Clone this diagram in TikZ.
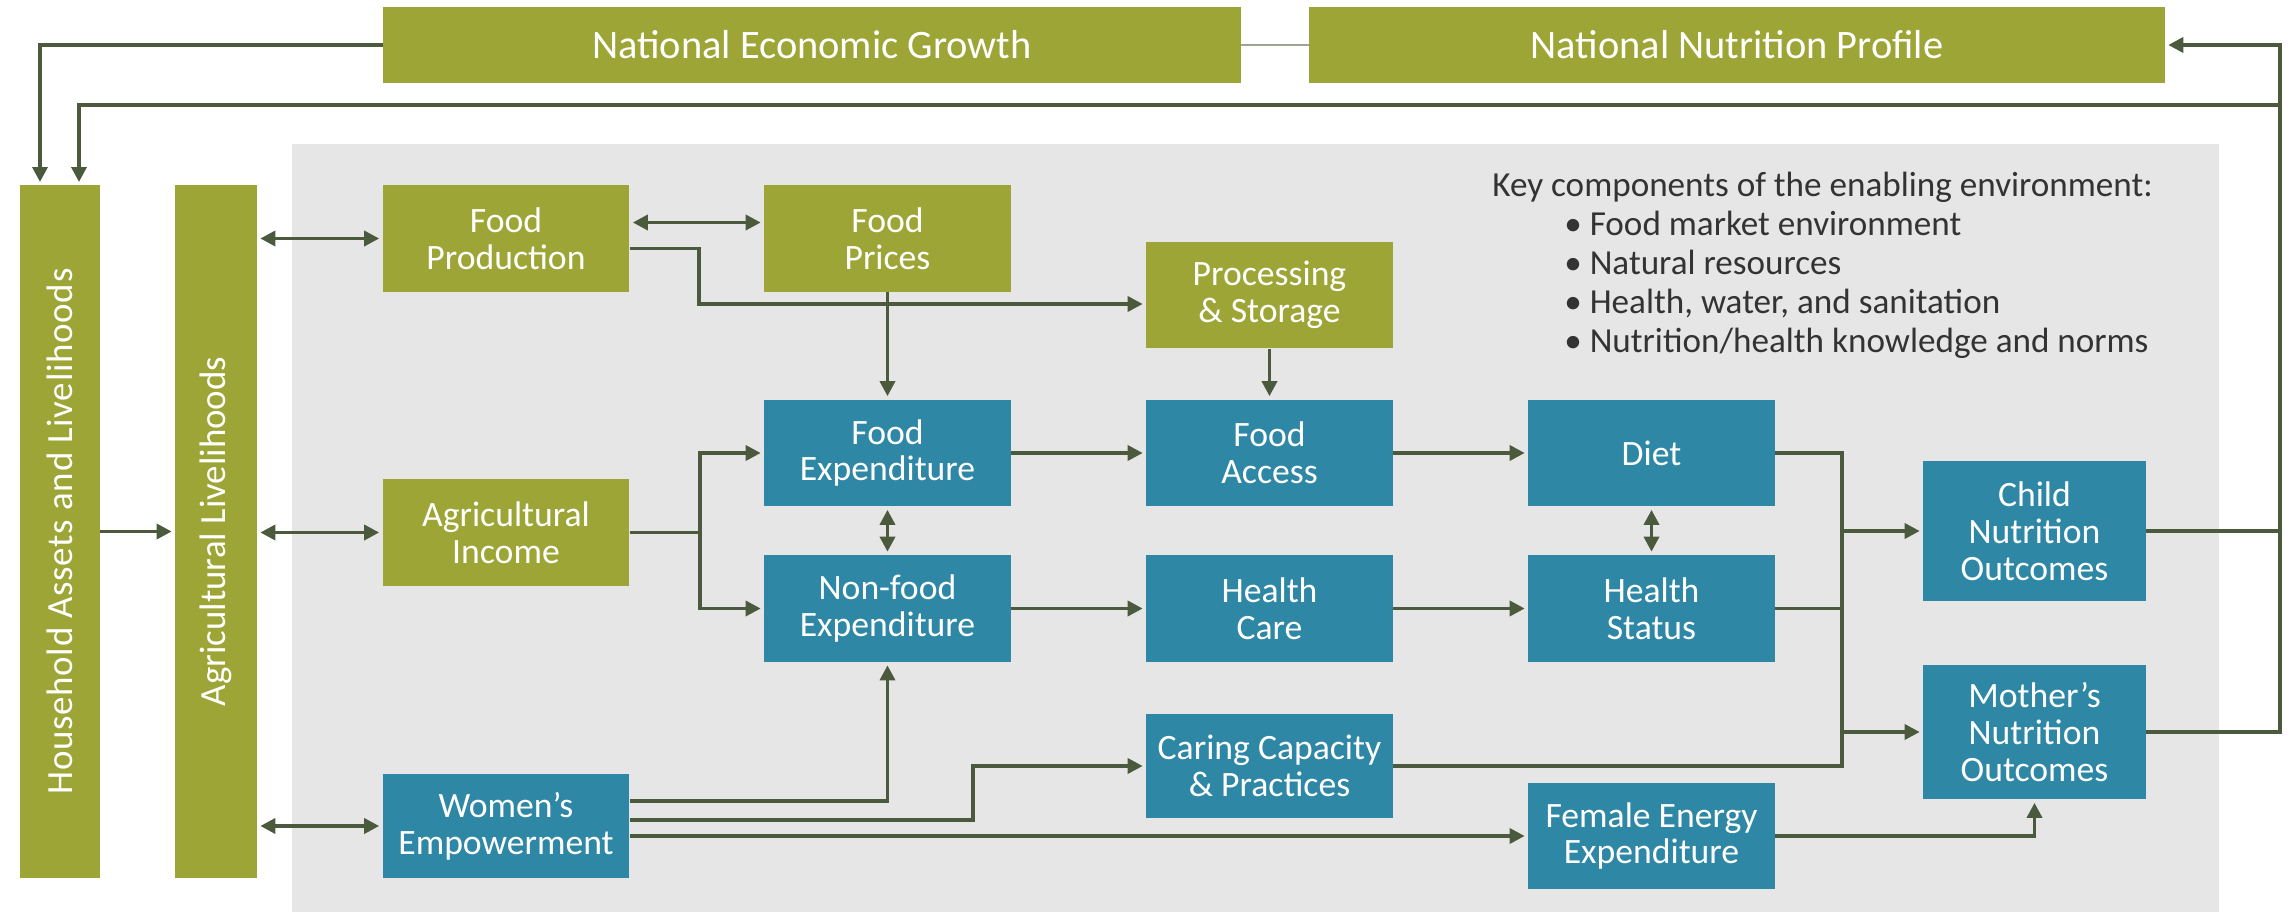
\documentclass[tikz,border=0pt]{standalone}
\usepackage{fontspec}
\setmainfont{Carlito}
\usetikzlibrary{arrows.meta,calc}
\definecolor{leafgreen}{HTML}{9DA537}
\definecolor{tealbox}{HTML}{2D87A5}
\definecolor{envgray}{HTML}{E6E6E6}
\definecolor{linkcol}{HTML}{4B5A3C}
\definecolor{keytext}{HTML}{333333}
\newcommand\boxfont{\fontsize{20.3}{21}\selectfont}
\newcommand\bannerfont{\fontsize{23}{25}\selectfont}
\newcommand\barfont{\fontsize{21}{23}\selectfont}
\newcommand\keyfont{\fontsize{20}{22.2}\selectfont}
\tikzset{%
    greenbox/.style={fill=leafgreen, text=white, align=center, inner sep=0pt,
        minimum width=4.94cm, minimum height=2.14cm, font=\boxfont},
    bluebox/.style={greenbox, fill=tealbox},
    link/.style={draw=linkcol, line width=2pt},
    arr/.style={link, -{Triangle[length=0.3cm,width=0.3cm]}, shorten >=0.06cm},
    dbl/.style={link, {Triangle[length=0.3cm,width=0.3cm]}-{Triangle[length=0.3cm,width=0.3cm]},
        shorten >=0.06cm, shorten <=0.06cm}
}
\begin{document}
\begin{tikzpicture}[x=0.02cm,y=-0.02cm]
    \useasboundingbox (0,0) rectangle (2293,916);
    \fill[envgray] (292,144) rectangle (2219,912);
    \node[greenbox, minimum width=17.16cm, minimum height=1.52cm, font=\bannerfont] (neg) at (812,45) {National Economic Growth};
    \node[greenbox, minimum width=17.12cm, minimum height=1.52cm, font=\bannerfont] (nnp) at (1737,45) {National Nutrition Profile};
    \node[greenbox, rotate=90, minimum width=13.86cm, minimum height=1.6cm, font=\barfont] (hh) at (60,531.5)
        {\addfontfeature{LetterSpace=2}Household Assets and Livelihoods};
    \node[greenbox, rotate=90, minimum width=13.86cm, minimum height=1.64cm, font=\barfont] (ag) at (216,531.5) {Agricultural Livelihoods};
    \node[greenbox] (fprod) at (506,238.5) {Food\\Production};
    \node[greenbox] (fprice) at (887.5,238.5) {Food\\Prices};
    \node[greenbox] (proc) at (1269.5,295) {Processing\\\& Storage};
    \node[greenbox] (aginc) at (506,532.5) {Agricultural\\Income};
    \node[bluebox] (fexp) at (887.5,453) {Food\\Expenditure};
    \node[bluebox] (faccess) at (1269.5,453) {Food\\Access};
    \node[bluebox] (diet) at (1651.5,453) {Diet};
    \node[bluebox] (nfexp) at (887.5,608.5) {Non-food\\Expenditure};
    \node[bluebox] (hcare) at (1269.5,608.5) {Health\\Care};
    \node[bluebox] (hstat) at (1651.5,608.5) {Health\\Status};
    \node[bluebox, minimum height=2.08cm] (women) at (506,826) {Women’s\\Empowerment};
    \node[bluebox, minimum height=2.08cm] (caring) at (1269.5,766) {Caring Capacity\\\& Practices};
    \node[bluebox, minimum height=2.12cm] (fenergy) at (1651.5,836) {Female Energy\\Expenditure};
    \node[bluebox, minimum width=4.46cm, minimum height=2.8cm] (child) at (2034.5,531) {Child\\Nutrition\\Outcomes};
    \node[bluebox, minimum width=4.46cm, minimum height=2.7cm] (mother) at (2034.5,732) {Mother’s\\Nutrition\\Outcomes};
    \node[anchor=north west, align=left, inner sep=0pt, text=keytext, font=\keyfont] (keys) at (1492,172)
        {Key components of the enabling environment:\\
        \hspace*{1.44cm}• Food market environment\\
        \hspace*{1.44cm}• Natural resources\\
        \hspace*{1.44cm}• Health, water, and sanitation\\
        \hspace*{1.44cm}• Nutrition/health knowledge and norms};
    \coordinate (hhin1) at (40,185);
    \coordinate (hhin2) at (79,185);
    \coordinate (fbtop) at (2280,45);
    \coordinate (fbmid) at (2280,105);
    \coordinate (pjog) at (699,304);
    \coordinate (ajog) at (700,532.5);
    \coordinate (bustop) at (1842,453);
    \coordinate (busbot) at (1842,766);
    \draw[link, draw=linkcol!55, line width=1.2pt] (neg.east) -- (nnp.west);
    \draw[arr] (neg.west) -| (hhin1);
    \draw[arr] (fbmid) -| (hhin2);
    \draw[arr] (mother.east) -| (fbtop) -- (nnp.east);
    \draw[link] (child.east) -- (child.east -| fbtop);
    \draw[arr] (hh.south) -- (ag.north);
    \foreach \n in {fprod,aginc,women}
    {
    \draw[dbl] (\n.west -| ag.south) -- (\n.west);
    }
    \draw[dbl] ($(fprod.east)+(0,-16)$) -- ($(fprice.west)+(0,-16)$);
    \draw[arr] ($(fprod.east)+(0,10)$) -| (pjog) -- (pjog -| proc.west);
    \draw[arr] (fprice.south) -- (fexp.north);
    \draw[arr] (proc.south) -- (faccess.north);
    \draw[link] (aginc.east) -- (ajog);
    \draw[arr] (ajog) |- (fexp.west);
    \draw[arr] (ajog) |- (nfexp.west);
    \draw[dbl] (fexp.south) -- (nfexp.north);
    \draw[dbl] (diet.south) -- (hstat.north);
    \foreach \a/\b in {fexp/faccess,faccess/diet,nfexp/hcare,hcare/hstat}
    {
    \draw[arr] (\a.east) -- (\b.west);
    }
    \draw[link] (diet.east) -- (bustop) -- (busbot) -- (caring.east);
    \draw[link] (hstat.east) -- (hstat.east -| bustop);
    \draw[arr] (child.west -| bustop) -- (child.west);
    \draw[arr] (mother.west -| bustop) -- (mother.west);
    \draw[arr] ($(women.east)+(0,-25)$) -| (nfexp.south);
    \draw[arr] ($(women.east)+(0,-6)$) -- ++(343,0) |- (caring.west);
    \draw[arr] (women.east |- fenergy.west) -- (fenergy.west);
    \draw[arr] (fenergy.east) -| (mother.south);
\end{tikzpicture}
\end{document}
